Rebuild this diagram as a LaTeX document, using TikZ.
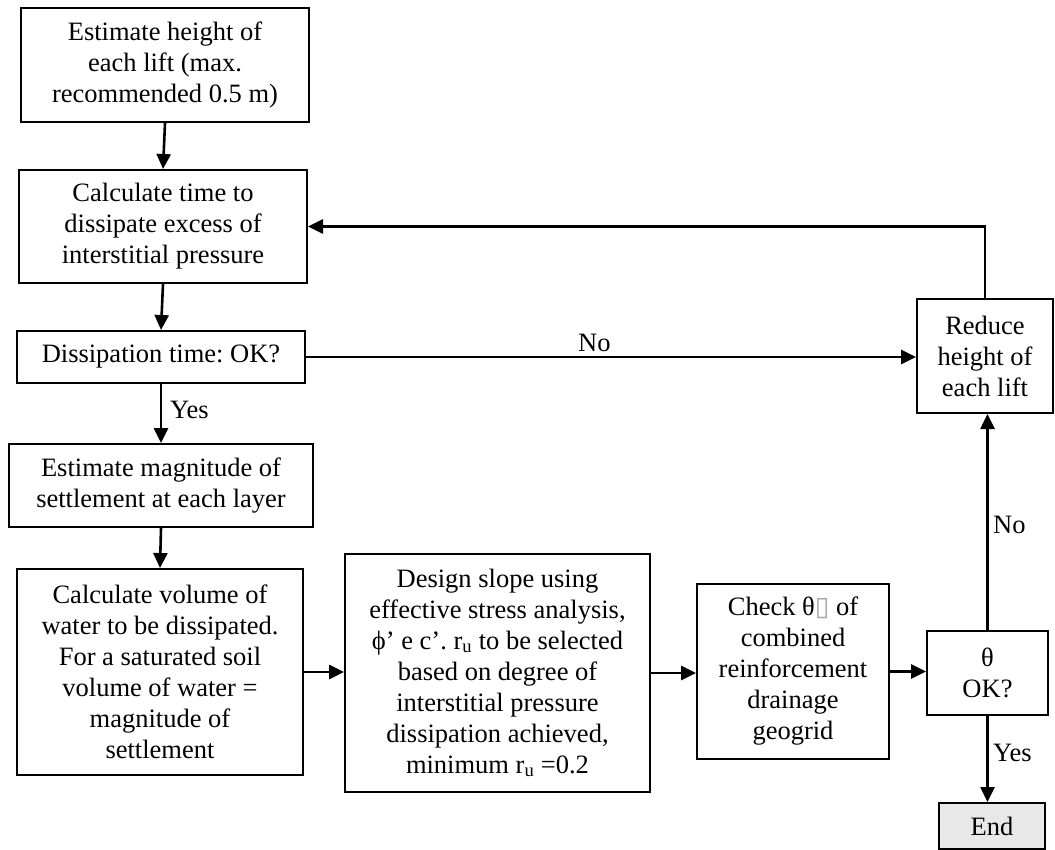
\documentclass[tikz,border=0pt]{standalone}
\usepackage{fontspec}
\setmainfont{Liberation Serif}
\newfontfamily\djv{DejaVu Sans}
\usetikzlibrary{arrows.meta}
\begin{document}
\frenchspacing
\begin{tikzpicture}[x=1pt,y=-1pt,
 box/.style={draw, line width=2pt, align=center, inner sep=0pt, font=\fontsize{26.5}{31}\selectfont},
 conn/.style={line width=2.6pt, -{Triangle[length=15pt,width=14pt]}},
 lbl/.style={font=\fontsize{26.5}{31}\selectfont, inner sep=0pt}]
\useasboundingbox (0,0) rectangle (1055,850);
\node[box, minimum width=288pt, minimum height=114pt] (b1) at (165,65) {Estimate height of\\each lift (max.\\recommended 0.5 m)};
\node[box, minimum width=288pt, minimum height=113pt] (b2) at (163,226.5) {Calculate time to\\dissipate excess of\\interstitial pressure};
\node[box, minimum width=288pt, minimum height=52pt] (b3) at (161,357) {Dissipation time: OK?};
\node[box, minimum width=304pt, minimum height=83pt] (b4) at (161,485.5) {Estimate magnitude of\\settlement at each layer};
\node[box, minimum width=286pt, minimum height=206pt] (b5) at (160,672) {Calculate volume of\\water to be dissipated.\\For a saturated soil\\volume of water =\\magnitude of\\settlement};
\node[box, minimum width=305pt, minimum height=238pt] (b6) at (497.5,673) {Design slope using\\effective stress analysis,\\ϕ’ e c’. r\textsubscript{u} to be selected\\based on degree of\\interstitial pressure\\dissipation achieved,\\minimum r\textsubscript{u} =0.2};
\node[box, minimum width=192pt, minimum height=175pt] (b7) at (793,671.5) {Check θ{\color{gray!70}\djv ▯} of\\combined\\reinforcement\\drainage\\geogrid};
\node[box, minimum width=121pt, minimum height=84pt] (ok) at (987.5,673) {θ\\OK?};
\node[box, minimum width=106pt, minimum height=46pt, fill=black!9] (endb) at (992,826) {End};
\node[box, minimum width=136pt, minimum height=114pt] (red) at (985,356) {Reduce\\height of\\each lift};
\node[lbl, anchor=west] (yes1) at (170,410) {Yes};
\node[lbl, anchor=base west] (no1) at (578,352) {No};
\node[lbl, anchor=west] (no2) at (993,525) {No};
\node[lbl, anchor=west] (yes2) at (993,753) {Yes};
\draw[conn] (b1.south) -- (b2.north);
\draw[conn] (b2.south) -- (b3.north);
\draw[conn] (b3.south) -- (b4.north);
\draw[conn] (b4.south) -- (b5.north);
\draw[conn] (b5.east) -- (b5.east -| b6.west);
\draw[conn] (b6.east) -- (b6.east -| b7.west);
\draw[conn] (b7.east) -- (b7.east -| ok.west);
\draw[conn] (ok.south) -- (ok.south |- endb.north);
\draw[conn] (ok.north) -- (ok.north |- red.south);
\draw[conn] (b3.east) -- (b3.east -| red.west);
\draw[conn] (red.north) |- (b2.east);
\end{tikzpicture}
\end{document}
